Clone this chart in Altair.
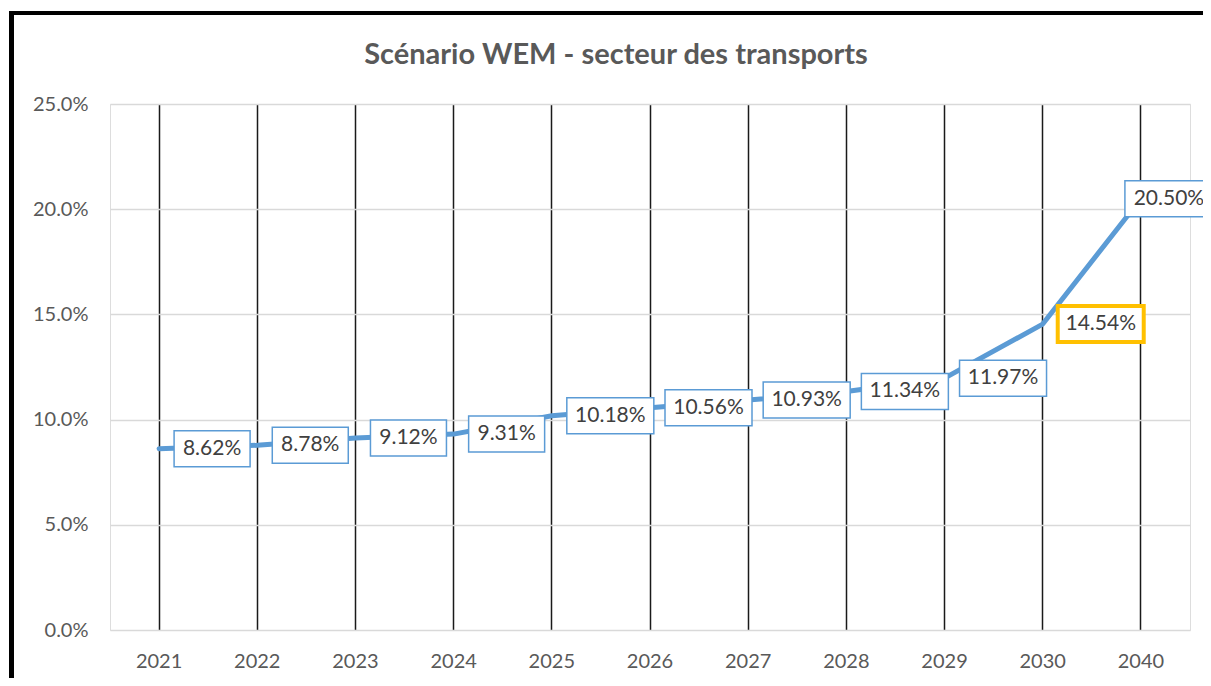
import altair as alt
import pandas as pd

years = ["2021", "2022", "2023", "2024", "2025", "2026", "2027", "2028", "2029", "2030", "2040"]
shares = [8.62, 8.78, 9.12, 9.31, 10.18, 10.56, 10.93, 11.34, 11.97, 14.54, 20.50]
y_ticks = [0.0, 0.05, 0.10, 0.15, 0.20, 0.25]
title_text = "Scénario WEM - secteur des transports"

df = pd.DataFrame({"year": years, "v": [s / 100 for s in shares]})

FONT = "Lato"
BLUE = "#5B9BD5"
GOLD = "#FFC000"
W, H = 1080, 526

x = alt.X("year:N", sort=years, title=None,
          scale=alt.Scale(paddingInner=0, paddingOuter=0),
          axis=alt.Axis(labelAngle=0, labelFontSize=20, labelColor="#595959", labelFont=FONT,
                        domain=False, ticks=False, grid=True, gridColor="#1a1a1a",
                        gridWidth=1.5, bandPosition=0.5, labelPadding=21))
y = alt.Y("v:Q", title=None,
          scale=alt.Scale(domain=[0, 0.25], nice=False),
          axis=alt.Axis(values=y_ticks, format=".1%", labelFontSize=20, labelColor="#595959",
                        labelFont=FONT, domain=False, ticks=False, grid=True,
                        gridColor="#d9d9d9", gridWidth=1.5, labelPadding=22))

base = alt.Chart(df)

line = base.mark_line(color=BLUE, strokeWidth=5, strokeCap="round", strokeJoin="round").encode(x=x, y=y)

def box(filt, width, xoff, stroke, sw):
    rect = base.transform_filter(filt).mark_rect(
        width=width, xOffset=xoff, yOffset=-18, y2Offset=18,
        fill="white", stroke=stroke, strokeWidth=sw
    ).encode(x=x, y=y, y2="v:Q")
    txt = base.transform_filter(filt).mark_text(
        dx=xoff, font=FONT, fontSize=21, color="#404040", baseline="middle", align="center"
    ).encode(x=x, y=y, text=alt.Text("v:Q", format=".2%"))
    return rect + txt

short = box("datum.v < 0.10", 76, 53, BLUE, 1.5)
long_ = box("datum.v >= 0.10 && datum.year != '2030' && datum.year != '2040'", 87, 58.5, BLUE, 1.5)
gold = box("datum.year == '2030'", 86, 58, GOLD, 4)
last = box("datum.year == '2040'", 88, 28, BLUE, 1.5)

title = alt.Chart(pd.DataFrame({"t": [title_text]})).mark_text(
    font=FONT, fontSize=29, fontWeight="bold", color="#595959", align="center", baseline="middle"
).encode(x=alt.value(506), y=alt.value(-49), text="t:N")

border_left = alt.Chart(df).mark_rule(color="black", strokeWidth=5).encode(
    x=alt.value(-98.5), y=alt.value(-92), y2=alt.value(H + 80))
border_top = alt.Chart(df).mark_rule(color="black", strokeWidth=4).encode(
    x=alt.value(-101), x2=alt.value(W + 40), y=alt.value(-91))

chart = alt.layer(line, short, long_, gold, last, title, border_left, border_top).properties(
    width=W, height=H,
    autosize=alt.AutoSizeParams(type="none"),
    padding={"left": 102, "top": 96, "right": 13, "bottom": 48},
).configure_view(stroke=None).configure(background="white")

chart.save("out.html", embed_options={"renderer": "svg", "actions": False})
